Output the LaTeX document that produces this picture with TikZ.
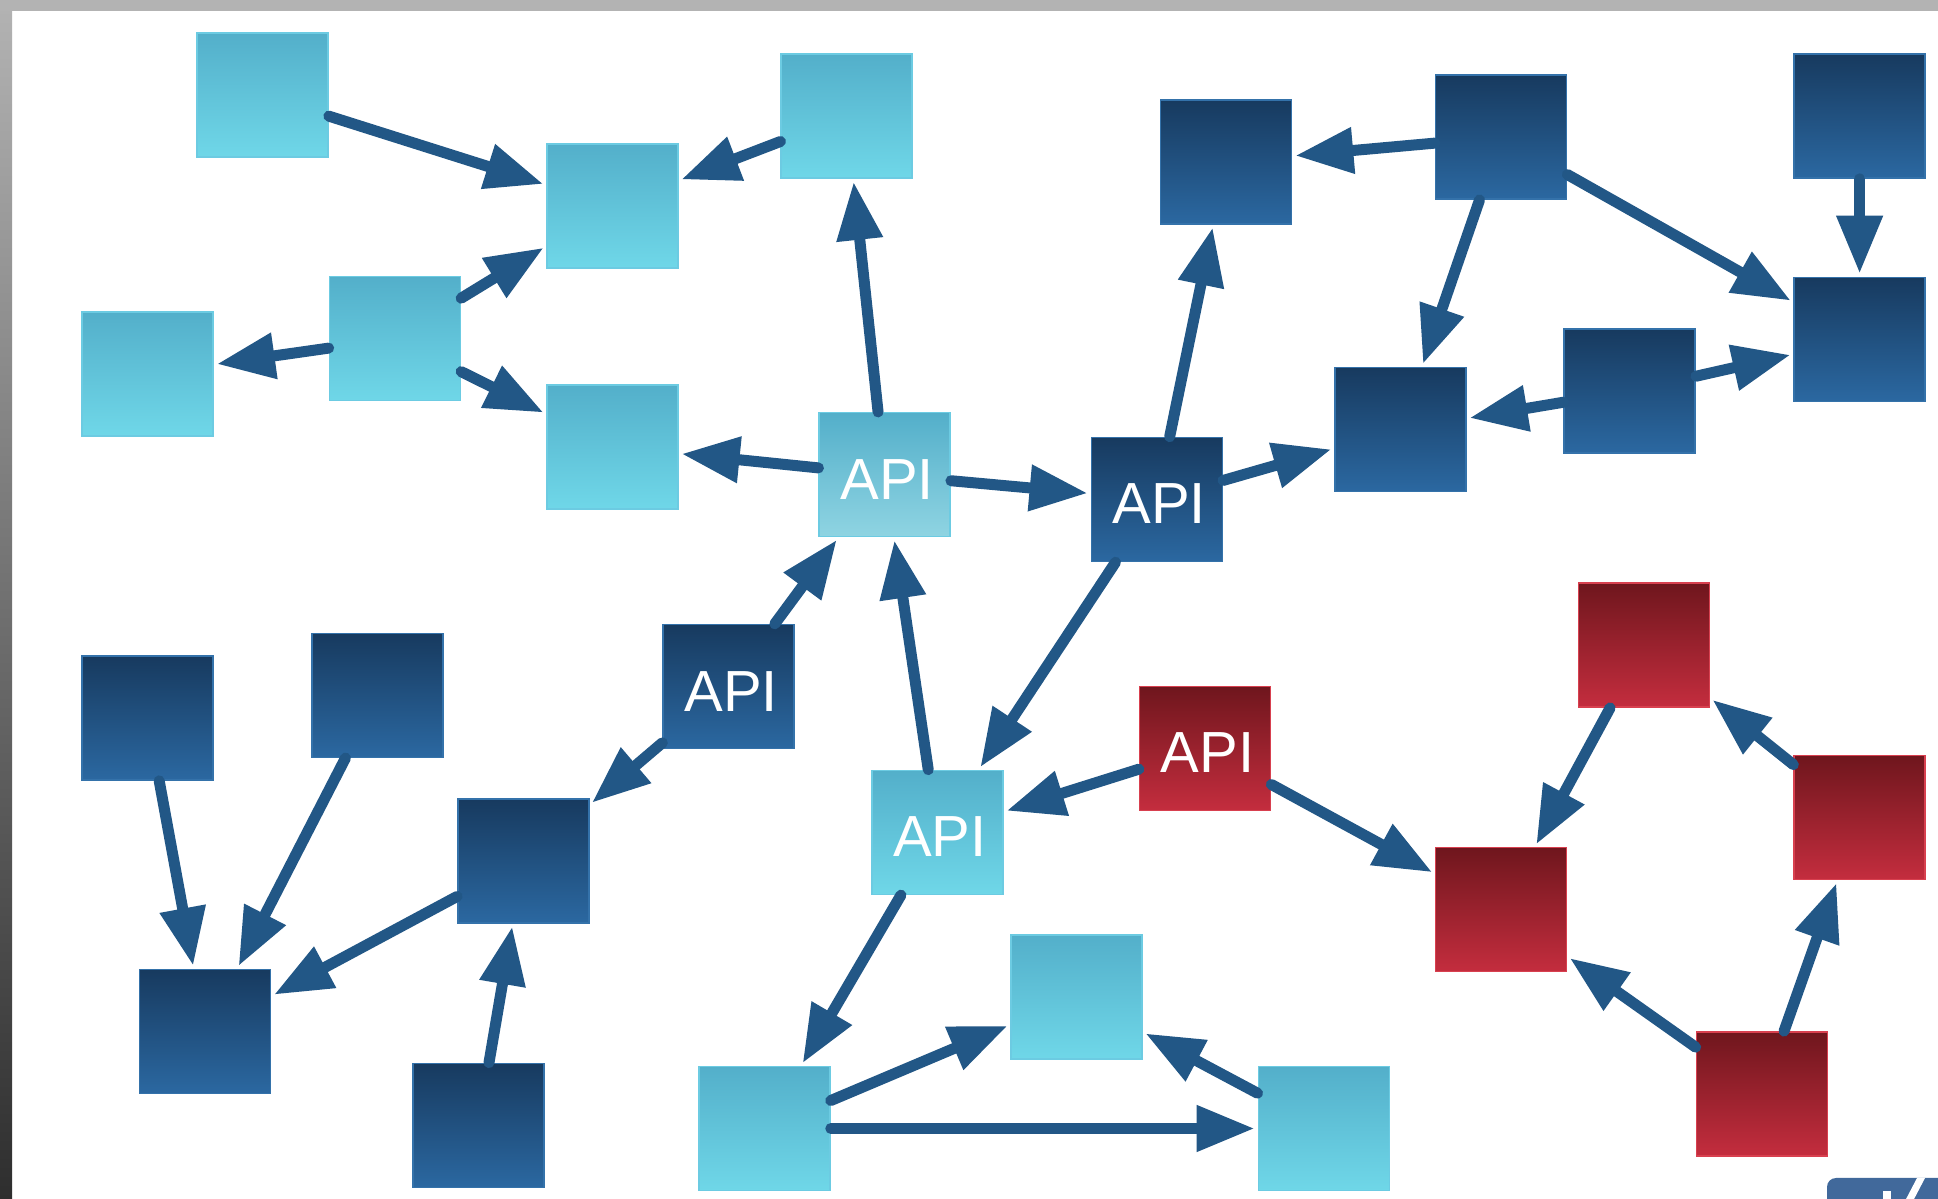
\documentclass[tikz,border=0pt]{standalone}
\usepackage{fontspec}
\setmainfont{Liberation Sans}
\usetikzlibrary{arrows.meta}
\definecolor{lbTop}{HTML}{53AFCA}
\definecolor{lbBot}{HTML}{6FD7E8}
\definecolor{lbEdge}{HTML}{6CCBE2}
\definecolor{laBot}{HTML}{8FD4E2}
\definecolor{dbTop}{HTML}{173A5F}
\definecolor{dbBot}{HTML}{2B68A1}
\definecolor{dbEdge}{HTML}{3472AA}
\definecolor{rbTop}{HTML}{6F161D}
\definecolor{rbBot}{HTML}{C42D3E}
\definecolor{rbEdge}{HTML}{D8404F}
\definecolor{arrowc}{HTML}{225786}
\definecolor{frameTop}{HTML}{B3B3B3}
\definecolor{frameBot}{HTML}{2E2E2E}
\definecolor{logoc}{HTML}{41699B}
\tikzset{
  box/.style={rectangle, minimum width=131pt, minimum height=124pt, inner sep=0pt, line width=1.5pt},
  lb/.style={box, draw=lbEdge, top color=lbTop, bottom color=lbBot},
  la/.style={box, draw=lbEdge, top color=lbTop, bottom color=laBot},
  db/.style={box, draw=dbEdge, top color=dbTop, bottom color=dbBot},
  rb/.style={box, draw=rbEdge, top color=rbTop, bottom color=rbBot},
  apitext/.style={text=white, font=\fontsize{58}{62}\selectfont, text height=49pt, text depth=0pt},
  link/.style={draw=arrowc, line width=11pt, line cap=round, -{Triangle[length=58pt,width=44pt]}, shorten >=3pt}
}
\newcommand{\apilabel}{\hspace*{5pt}API}
\begin{document}
\begin{tikzpicture}[x=1pt,y=1pt]
\useasboundingbox (0,0) rectangle (1938,1199);
\fill[white] (0,0) rectangle (1938,1199);
% frame
\shade[top color=frameTop, bottom color=frameBot] (0,0) rectangle (12,1199);
\fill[frameTop] (0,1188) rectangle (1938,1199);
% partial logo bottom right
\fill[logoc, rounded corners=9pt] (1827,-20) rectangle (1970,21);
\fill[white] (1883,-2) rectangle (1891,8);
\fill[white] (1905,-2) -- (1913,-2) -- (1925,21) -- (1917,21) -- cycle;

% light blue
\node[lb] (L1) at (262.6,1103.8) {};
\node[lb] (L2) at (612.4,993.2) {};
\node[lb] (L3) at (846.7,1082.8) {};
\node[lb] (L4) at (394.9,860.3) {};
\node[lb] (L5) at (147.7,825.1) {};
\node[lb] (L6) at (612.4,752.2) {};
\node[la, apitext] (A1) at (884.7,724.3) {\apilabel};
\node[lb, apitext] (A4) at (937.5,366.6) {\apilabel};
\node[lb] (L7) at (764.5,70.5) {};
\node[lb] (L8) at (1076.6,202.2) {};
\node[lb] (L9) at (1323.8,70.5) {};
% dark blue
\node[db] (D1) at (1226.1,1037.1) {};
\node[db] (D2) at (1501.1,1061.8) {};
\node[db] (D3) at (1859.6,1082.8) {};
\node[db] (D4) at (1859.6,859.7) {};
\node[db] (D5) at (1629.7,807.8) {};
\node[db] (D6) at (1400.4,769.5) {};
\node[db, apitext] (A2) at (1156.8,699.5) {\apilabel};
\node[db, apitext] (A3) at (728.6,512.4) {\apilabel};
\node[db] (D7) at (147.7,480.9) {};
\node[db] (D8) at (377.6,503.7) {};
\node[db] (D9) at (523.4,338.1) {};
\node[db] (D10) at (205.2,167.6) {};
\node[db] (D11) at (478.3,73.6) {};
% red
\node[rb, apitext] (A5) at (1205.1,450.6) {\apilabel};
\node[rb] (R1) at (1643.9,553.8) {};
\node[rb] (R2) at (1859.6,381.4) {};
\node[rb] (R3) at (1501.1,289.3) {};
\node[rb] (R4) at (1761.9,105.1) {};

% connectors
\draw[link] (L1) -- (L2);
\draw[link] (L3) -- (L2);
\draw[link] (L4) -- (L2);
\draw[link] (L4) -- (L5);
\draw[link] (L4) -- (L6);
\draw[link] (A1) -- (L6);
\draw[link] (A1) -- (L3);
\draw[link] (A1) -- (A2);
\draw[link] (A2) -- (D1);
\draw[link] (A2) -- (D6);
\draw[link] (D2) -- (D1);
\draw[link] (D2) -- (D6);
\draw[link] (D2) -- (D4);
\draw[link] (D3) -- (D4);
\draw[link] (D5) -- (D4);
\draw[link] (D5) -- (D6);
\draw[link] (A2) -- (A4);
\draw[link] (A3) -- (A1);
\draw[link] (A3) -- (D9);
\draw[link] (A4) -- (A1);
\draw[link] (A5) -- (A4);
\draw[link] (A5) -- (R3);
\draw[link] (A4) -- (L7);
\draw[link] (L7) -- (L8);
\draw[link] (L7) -- (L9);
\draw[link] (L9) -- (L8);
\draw[link] (D7) -- (D10);
\draw[link] (D8) -- (D10);
\draw[link] (D9) -- (D10);
\draw[link] (D11) -- (D9);
\draw[link] (R1) -- (R3);
\draw[link] (R2) -- (R1);
\draw[link] (R4) -- (R3);
\draw[link] (R4) -- (R2);
\end{tikzpicture}
\end{document}
